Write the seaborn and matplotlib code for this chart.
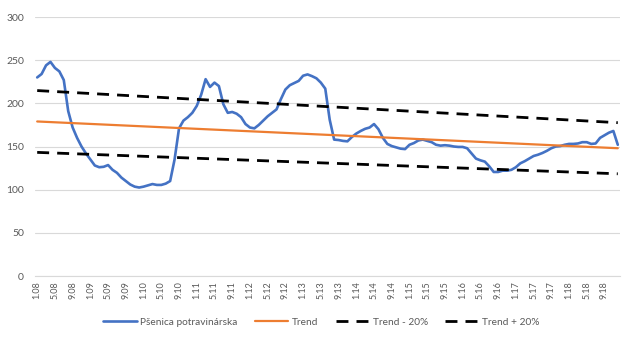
import numpy as np
import pandas as pd
import matplotlib
matplotlib.use("Agg")
import matplotlib.pyplot as plt
import seaborn as sns

# Monthly wheat price, Jan 2008 - Dec 2018
wheat = [
    230, 234, 244, 248, 241, 237, 227, 191, 172, 160, 150, 142,
    135, 128, 126, 126.5, 128.5, 123, 119.5, 114, 110, 106, 103.5, 102.5,
    103.5, 105, 106.5, 105.5, 105.5, 107, 110, 135, 171, 180, 184, 189,
    197, 210, 228, 219, 224, 220, 199, 189, 190, 188, 184, 176,
    172, 171, 175, 180, 185, 189, 193, 205, 216, 221, 223.5, 226,
    232, 233.5, 231.5, 229, 224, 217, 181, 158, 157.5, 156.5, 156, 161,
    165, 168, 170.5, 172, 176, 170, 160, 153, 150.5, 149, 147.5, 147,
    152, 154, 157, 158, 156.5, 155, 152, 151, 151.5, 151, 150, 149.5,
    149.5, 148, 142, 136, 134, 132.5, 127, 120.5, 120.5, 122, 122, 123,
    126, 130.5, 133, 136, 139, 140.5, 142.5, 145, 148, 150, 150.5, 152,
    153, 153, 153.5, 155, 155, 153, 153.5, 160, 163, 166, 168, 152,
]

# Linear trend (first and last month) and the +/-20 % band around it
trend_ends = [179.0, 148.0]
trend_minus_ends = [143.2, 118.4]
trend_plus_ends = [214.8, 177.6]

tick_labels = [
    "1.08", "5.08", "9.08", "1.09", "5.09", "9.09", "1.10", "5.10", "9.10",
    "1.11", "5.11", "9.11", "1.12", "5.12", "9.12", "1.13", "5.13", "9.13",
    "1.14", "5.14", "9.14", "1.15", "5.15", "9.15", "1.16", "5.16", "9.16",
    "1.17", "5.17", "9.17", "1.18", "5.18", "9.18",
]
y_ticks = [0, 50, 100, 150, 200, 250, 300]

sns.set_theme(style="white")
plt.rcParams["font.family"] = ["Lato", "DejaVu Sans"]

n = len(wheat)
idx = np.arange(n)
ends = [0, n - 1]

fig = plt.figure(figsize=(6.29, 3.38), dpi=100)
ax = fig.add_axes([0.0556, 0.1834, 0.9301, 0.7663])

blue = "#4472C4"
orange = "#ED7D31"
dash = (0, (4.3, 2.9))

sns.lineplot(x=idx, y=wheat, ax=ax, color=blue, linewidth=1.9,
             label="Pšenica potravinárska")
sns.lineplot(x=ends, y=trend_ends, ax=ax, color=orange, linewidth=1.6,
             label="Trend")
sns.lineplot(x=ends, y=trend_minus_ends, ax=ax, color="black", linewidth=2.0,
             linestyle=dash, label="Trend - 20%")
sns.lineplot(x=ends, y=trend_plus_ends, ax=ax, color="black", linewidth=2.0,
             linestyle=dash, label="Trend + 20%")

ax.set_xlim(-0.5, n - 0.5)
ax.set_ylim(0, 300)
ax.set_yticks(y_ticks)
ax.set_yticklabels([str(v) for v in y_ticks], fontsize=7.5, color="#595959")
ax.set_xticks(np.arange(0, n, 4)[: len(tick_labels)])
ax.set_xticklabels(tick_labels, rotation=90, fontsize=6.5, color="#595959")
ax.tick_params(axis="both", length=0, pad=4)
ax.tick_params(axis="y", pad=8)

ax.grid(axis="y", color="#d9d9d9", linewidth=0.8)
ax.set_axisbelow(True)
for side in ["top", "right", "left"]:
    ax.spines[side].set_visible(False)
ax.spines["bottom"].set_color("#d9d9d9")
ax.spines["bottom"].set_linewidth(0.8)
ax.set_xlabel("")
ax.set_ylabel("")

handles, labels = ax.get_legend_handles_labels()
ax.get_legend().remove()
fig.legend(handles, labels, loc="center", bbox_to_anchor=(0.511, 0.047),
           ncol=4, frameon=False, fontsize=7.3, handlelength=3.3,
           columnspacing=1.7, handletextpad=0.35, labelcolor="#595959")

fig.savefig("out.png", dpi=100)
